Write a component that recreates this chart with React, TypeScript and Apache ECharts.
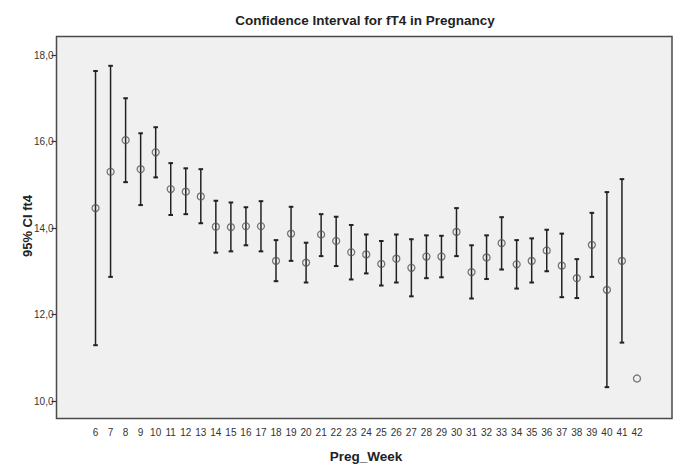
import React, { useEffect, useRef } from "react";
import * as echarts from "echarts";

const weeks = ["6","7","8","9","10","11","12","13","14","15","16","17","18","19","20","21","22","23","24","25","26","27","28","29","30","31","32","33","34","35","36","37","38","39","40","41","42"];
const means = [14.46, 15.30, 16.03, 15.36, 15.75, 14.90, 14.84, 14.73, 14.03, 14.02, 14.04, 14.04, 13.24, 13.87, 13.20, 13.85, 13.70, 13.44, 13.39, 13.17, 13.29, 13.08, 13.34, 13.34, 13.91, 12.98, 13.32, 13.65, 13.16, 13.24, 13.48, 13.13, 12.84, 13.61, 12.57, 13.24, 10.52];
const lows: (number | null)[] = [11.29, 12.87, 15.06, 14.53, 15.17, 14.30, 14.32, 14.11, 13.43, 13.46, 13.60, 13.46, 12.77, 13.24, 12.74, 13.35, 13.12, 12.81, 12.95, 12.67, 12.74, 12.42, 12.84, 12.86, 13.35, 12.37, 12.82, 13.04, 12.60, 12.74, 13.00, 12.40, 12.38, 12.87, 10.32, 11.35, null];
const highs: (number | null)[] = [17.63, 17.75, 17.00, 16.19, 16.33, 15.50, 15.38, 15.36, 14.63, 14.59, 14.48, 14.62, 13.72, 14.49, 13.66, 14.32, 14.26, 14.07, 13.85, 13.70, 13.85, 13.74, 13.83, 13.82, 14.46, 13.60, 13.83, 14.25, 13.72, 13.76, 13.96, 13.87, 13.28, 14.35, 14.83, 15.13, null];

const FONT = "'Liberation Sans', Arial, sans-serif";

export default function App() {
  const ref = useRef<HTMLDivElement>(null);
  useEffect(() => {
    if (!ref.current) return;
    const chart = echarts.init(ref.current, undefined, { renderer: "svg" });
    const ciData: number[][] = [];
    weeks.forEach((_, i) => {
      if (lows[i] != null && highs[i] != null) ciData.push([i, lows[i] as number, highs[i] as number]);
    });
    chart.setOption({
      animation: false,
      backgroundColor: "#ffffff",
      title: {
        text: "Confidence Interval for fT4 in Pregnancy",
        left: 360,
        top: 8,
        textAlign: "center",
        textStyle: { fontFamily: FONT, fontSize: 13.5, fontWeight: "bold", color: "#222" },
      },
      grid: { left: 88, right: 31.5, top: 55, bottom: 65 },
      xAxis: {
        type: "category",
        data: weeks,
        offset: 17,
        axisLine: { show: false },
        axisTick: { alignWithLabel: true, length: 6, lineStyle: { color: "#333", width: 1.2 } },
        axisLabel: { fontFamily: FONT, fontSize: 10, color: "#333", margin: 9, interval: 0 },
        splitLine: { show: false },
      },
      yAxis: {
        type: "value",
        min: 10,
        max: 18,
        interval: 2,
        offset: 31.5,
        axisLine: { show: false },
        axisTick: { show: true, length: 5, lineStyle: { color: "#333", width: 1.2 } },
        axisLabel: {
          fontFamily: FONT, fontSize: 10, color: "#333", margin: 3,
          formatter: (v: number) => v.toFixed(1).replace(".", ","),
        },
        splitLine: { show: false },
      },
      graphic: [
        {
          type: "rect",
          z: -10,
          silent: true,
          shape: { x: 56.5, y: 36.5, width: 615.5, height: 382 },
          style: { fill: "#f0f0f0", stroke: "#4a4a4a", lineWidth: 1.5 },
        },
        {
          type: "text",
          x: 27,
          y: 226,
          rotation: Math.PI / 2,
          style: {
            text: "95% CI ft4",
            fontFamily: FONT, fontSize: 13, fontWeight: "bold", fill: "#222",
            align: "center", verticalAlign: "middle",
          },
        },
        {
          type: "text",
          x: 366,
          y: 456,
          style: {
            text: "Preg_Week",
            fontFamily: FONT, fontSize: 13.5, fontWeight: "bold", fill: "#222",
            align: "center", verticalAlign: "middle",
          },
        },
      ],
      series: [
        {
          type: "custom",
          data: ciData,
          z: 2,
          renderItem: (params: any, api: any) => {
            const idx = api.value(0);
            const lo = api.coord([idx, api.value(1)]);
            const hi = api.coord([idx, api.value(2)]);
            const st = { stroke: "#222", lineWidth: 1.5 };
            const hw = 2.3;
            return {
              type: "group",
              children: [
                { type: "line", shape: { x1: lo[0], y1: lo[1], x2: hi[0], y2: hi[1] }, style: st },
                { type: "line", shape: { x1: lo[0] - hw, y1: lo[1], x2: lo[0] + hw, y2: lo[1] }, style: { stroke: "#222", lineWidth: 2 } },
                { type: "line", shape: { x1: hi[0] - hw, y1: hi[1], x2: hi[0] + hw, y2: hi[1] }, style: { stroke: "#222", lineWidth: 2 } },
              ],
            };
          },
        },
        {
          type: "scatter",
          data: means,
          z: 3,
          symbol: "circle",
          symbolSize: 7,
          itemStyle: { color: "rgba(0,0,0,0)", borderColor: "#555", borderWidth: 1.3 },
        },
      ],
    });
    return () => chart.dispose();
  }, []);
  return <div ref={ref} style={{ position: "fixed", left: 0, top: 0, width: 676, height: 466 }} />;
}
